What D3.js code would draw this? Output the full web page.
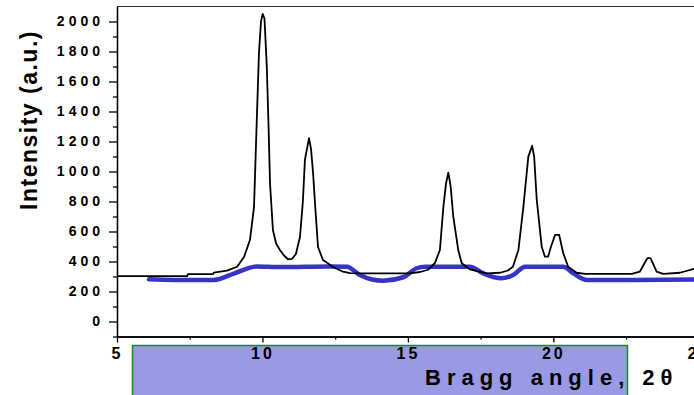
<!DOCTYPE html>
<html>
<head>
<meta charset="utf-8">
<script src="https://cdn.jsdelivr.net/npm/d3@7"></script>
<style>
  body { margin: 0; background: #fff; }
  svg { display: block; font-family: "Liberation Sans", Arial, sans-serif; }
</style>
</head>
<body>
<svg></svg>
<script>
// diffraction pattern (black)
let patternAngle = [5.00, 7.41, 7.44, 8.30, 8.33, 8.78, 9.13, 9.37, 9.57, 9.71, 9.79, 9.88, 9.95, 10.01, 10.07,
  10.15, 10.21, 10.26, 10.36, 10.47, 10.60, 10.74, 10.88, 11.02, 11.15, 11.29, 11.39, 11.46, 11.60, 11.67,
  11.74, 11.82, 11.91, 12.08, 12.43, 12.77, 13.01, 13.46, 15.07, 15.42, 15.69, 15.93, 16.10, 16.22, 16.31,
  16.39, 16.47, 16.56, 16.73, 16.85, 17.13, 17.71, 18.17, 18.44, 18.61, 18.80, 18.97, 19.14, 19.27, 19.34,
  19.43, 19.60, 19.71, 19.82, 19.92, 20.06, 20.20, 20.34, 20.51, 20.80, 21.09, 22.70, 22.97, 23.23, 23.34,
  23.55, 23.78, 24.35, 24.77, 25.00]
let patternIntensity = [303, 303, 316, 316, 326, 339, 365, 432, 543, 763, 1250, 1790, 2000, 2050, 2020,
  1697, 1300, 922, 610, 520, 477, 440, 415, 418, 450, 563, 800, 1077, 1223, 1150,
  990, 750, 497, 410, 363, 332, 323, 321, 321, 330, 345, 390, 477, 765, 920,
  992, 900, 699, 477, 388, 348, 321, 325, 340, 365, 477, 765, 1099, 1172, 1100,
  810, 499, 432, 432, 500, 577, 577, 455, 365, 325, 317, 317, 332, 422, 422,
  332, 317, 325, 348, 355]

// smooth blue curve
let fitAngle = [6.10, 6.99, 8.33, 9.06, 9.81, 10.60, 12.32, 12.90, 13.35, 13.77, 14.15, 14.84, 15.30, 15.59,
  17.13, 17.59, 18.22, 18.62, 19.03, 20.34, 20.69, 21.15, 22.30, 24.83]
let fitIntensity = [281, 277, 277, 323, 367, 363, 367, 365, 310, 280, 272, 295, 355, 365,
  365, 321, 288, 310, 365, 365, 321, 277, 277, 280]

let xTicks = [5, 10, 15, 20, 25]
let xMinor = [7.5, 12.5, 17.5, 22.5]
let yTicks = [0, 200, 400, 600, 800, 1000, 1200, 1400, 1600, 1800, 2000]
let yMinor = [-100, 100, 300, 500, 700, 900, 1100, 1300, 1500, 1700, 1900]

let svgWidth = 694, svgHeight = 395

let svg = d3.select('svg')
            .attr('width', svgWidth)
            .attr('height', svgHeight)

let xScale = d3.scaleLinear().domain([5, 25]).range([117, 698.8])
let yScale = d3.scaleLinear().domain([-100, 2100]).range([336.5, 6.5])

// lavender box under the x axis
svg.append('rect')
   .attr('x', 132.5).attr('y', 345.5)
   .attr('width', 495).attr('height', 60)
   .attr('fill', '#9999e6')
   .attr('stroke', '#129112')
   .attr('stroke-width', 1.5)

// top frame line
svg.append('line')
   .attr('x1', xScale(5)).attr('x2', xScale(25))
   .attr('y1', yScale(2100)).attr('y2', yScale(2100))
   .attr('stroke', '#333').attr('stroke-width', 1.2)

// x axis
let xAxis = svg.append('g')
   .attr('transform', 'translate(0,' + yScale(-100) + ')')
   .call(d3.axisBottom(xScale).tickValues(xTicks).tickSize(6).tickSizeOuter(0).tickPadding(5.5).tickFormat(d3.format('d')))
svg.append('g')
   .attr('transform', 'translate(0,' + yScale(-100) + ')')
   .call(d3.axisBottom(xScale).tickValues(xMinor).tickSize(3).tickSizeOuter(0).tickFormat(''))

xAxis.selectAll('text')
     .attr('fill', '#000')
     .style('font-size', '16px')
     .style('font-weight', 'bold')
     .style('letter-spacing', '3px')

// y axis
let yAxis = svg.append('g')
   .attr('transform', 'translate(' + xScale(5) + ',0)')
   .call(d3.axisLeft(yScale).tickValues(yTicks).tickSize(8).tickSizeOuter(0).tickPadding(5).tickFormat(d3.format('d')))
svg.append('g')
   .attr('transform', 'translate(' + xScale(5) + ',0)')
   .call(d3.axisLeft(yScale).tickValues(yMinor).tickSize(4).tickSizeOuter(0).tickFormat(''))

yAxis.selectAll('text')
     .attr('fill', '#000')
     .style('font-size', '14px')
     .style('font-weight', 'bold')
     .style('letter-spacing', '4px')

svg.selectAll('.domain, .tick line').attr('stroke', '#000').attr('stroke-width', 1.3)

// blue curve
let fitLine = d3.line()
                .x(function(d, i) { return xScale(fitAngle[i]) })
                .y(function(d) { return yScale(d) })
                .curve(d3.curveMonotoneX)
svg.append('path')
   .attr('d', fitLine(fitIntensity))
   .attr('fill', 'none')
   .attr('stroke', '#3434c8')
   .attr('stroke-width', 4.5)
   .attr('stroke-linecap', 'round')

// black pattern
let patternLine = d3.line()
                .x(function(d, i) { return xScale(patternAngle[i]) })
                .y(function(d) { return yScale(d) })
svg.append('path')
   .attr('d', patternLine(patternIntensity))
   .attr('fill', 'none')
   .attr('stroke', '#000')
   .attr('stroke-width', 1.8)
   .attr('stroke-linejoin', 'round')

// axis titles
svg.append('text')
   .attr('transform', 'translate(37,120) rotate(-90)')
   .attr('text-anchor', 'middle')
   .style('font-size', '23px')
   .style('font-weight', 'bold')
   .style('letter-spacing', '1.5px')
   .text('Intensity (a.u.)')

svg.append('text')
   .attr('x', 425).attr('y', 385)
   .style('font-size', '22px')
   .style('font-weight', 'bold')
   .style('letter-spacing', '6px')
   .text('Bragg angle, 2θ')
</script>
</body>
</html>
